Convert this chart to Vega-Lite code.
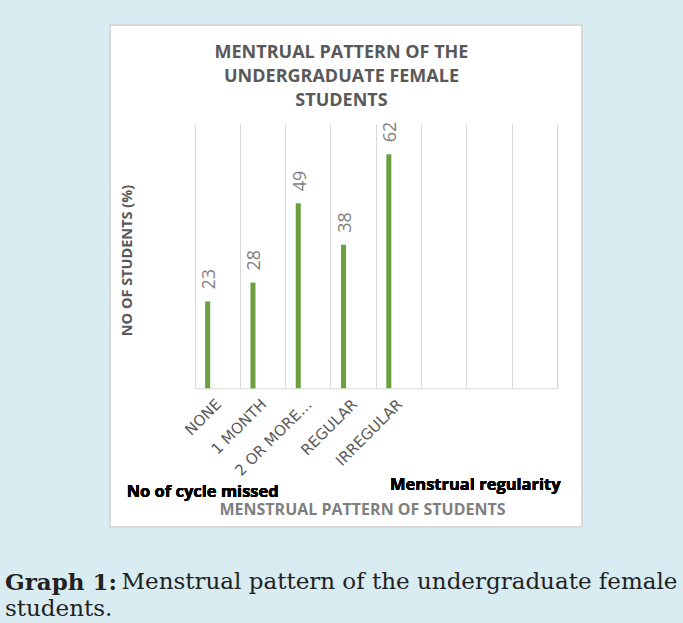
{
  "$schema": "https://vega.github.io/schema/vega-lite/v6.json",
  "width": 472,
  "height": 502,
  "autosize": {"type": "none"},
  "padding": {"left": 110, "top": 25, "right": 101, "bottom": 96},
  "background": "#d8ecf1",
  "config": {
    "view": {"fill": "white", "stroke": "#d9d9d9", "strokeWidth": 2}
  },
  "title": {
    "text": "Graph 1:",
    "subtitle": "students.",
    "orient": "bottom",
    "anchor": "start",
    "frame": "group",
    "dx": -105,
    "offset": -3,
    "baseline": "alphabetic",
    "font": "DejaVu Serif",
    "fontSize": 23,
    "fontWeight": "bold",
    "color": "#222222",
    "subtitleFont": "DejaVu Serif",
    "subtitleFontSize": 23,
    "subtitleFontWeight": "normal",
    "subtitleColor": "#222222",
    "subtitlePadding": 3
  },
  "data": {
    "values": [
      {"cat": "NONE", "v": 23},
      {"cat": "1 MONTH", "v": 28},
      {"cat": "2 OR MORE…", "v": 49},
      {"cat": "REGULAR", "v": 38},
      {"cat": "IRREGULAR", "v": 62}
    ]
  },
  "resolve": {"axis": {"x": "independent", "y": "independent"}},
  "layer": [
    {
      "mark": {"type": "rule", "color": "#6b9f3f", "strokeWidth": 5, "strokeCap": "butt"},
      "encoding": {
        "x": {
          "field": "cat",
          "type": "nominal",
          "bandPosition": 0.28,
          "scale": {
            "domain": ["NONE", "1 MONTH", "2 OR MORE…", "REGULAR", "IRREGULAR", " ", "  ", "   "],
            "range": [85, 447.3],
            "paddingInner": 0,
            "paddingOuter": 0
          },
          "axis": {
            "orient": "bottom",
            "offset": -138.7,
            "grid": false,
            "domain": true,
            "domainColor": "#d9d9d9",
            "domainWidth": 1,
            "ticks": false,
            "labelAngle": -45,
            "labelAlign": "right",
            "labelBaseline": "middle",
            "labelOffset": 1,
            "labelPadding": 13,
            "labelFont": "DejaVu Sans",
            "labelFontSize": 15,
            "labelColor": "#595959",
            "labelOverlap": false,
            "title": "MENSTRUAL PATTERN OF STUDENTS",
            "titleFont": "Open Sans",
            "titleFontWeight": "bold",
            "titleFontSize": 16,
            "titleColor": "#7f7f7f",
            "titleX": 252,
            "titleY": 126,
            "titleAlign": "center",
            "titleBaseline": "alphabetic"
          }
        },
        "y": {
          "field": "v",
          "type": "quantitative",
          "scale": {"domain": [0, 70], "range": [363.3, 99], "nice": false},
          "axis": {
            "orient": "left",
            "offset": -85,
            "labels": false,
            "ticks": false,
            "domain": true,
            "domainColor": "#d9d9d9",
            "domainWidth": 1,
            "grid": false,
            "title": "NO OF STUDENTS (%)",
            "titleFont": "Open Sans",
            "titleFontWeight": "bold",
            "titleFontSize": 14.5,
            "titleColor": "#595959",
            "titleAngle": -90,
            "titleX": -61,
            "titleY": 235,
            "titleAlign": "center",
            "titleBaseline": "bottom"
          }
        },
        "y2": {"datum": 0}
      }
    },
    {
      "mark": {"type": "text", "angle": 270, "align": "left", "baseline": "middle", "dx": 12, "font": "Open Sans", "fontSize": 18, "color": "#7f7f7f"},
      "encoding": {
        "x": {
          "field": "cat",
          "type": "nominal",
          "bandPosition": 0.33,
          "axis": {
            "orient": "top",
            "bandPosition": 1,
            "grid": true,
            "gridColor": "#d9d9d9",
            "gridWidth": 1,
            "domain": false,
            "ticks": false,
            "labels": false,
            "title": ["MENTRUAL PATTERN OF THE", "UNDERGRADUATE FEMALE", "STUDENTS"],
            "titleFont": "Open Sans",
            "titleFontWeight": "bold",
            "titleFontSize": 18,
            "titleColor": "#595959",
            "titleLineHeight": 24,
            "titleX": 231,
            "titleY": 18,
            "titleAlign": "center",
            "titleBaseline": "top"
          }
        },
        "y": {
          "field": "v",
          "type": "quantitative",
          "axis": {
            "orient": "right",
            "offset": -24.7,
            "labels": false,
            "ticks": false,
            "domain": true,
            "domainColor": "#d9d9d9",
            "domainWidth": 1,
            "grid": false,
            "title": "Menstrual pattern of the undergraduate female",
            "titleAngle": 0,
            "titleFont": "DejaVu Serif",
            "titleFontSize": 23,
            "titleFontWeight": "normal",
            "titleColor": "#222222",
            "titleX": -436.3,
            "titleY": 563,
            "titleAlign": "left",
            "titleBaseline": "alphabetic"
          }
        },
        "text": {"field": "v", "type": "quantitative"}
      }
    },
    {
      "mark": {"type": "text", "align": "center", "baseline": "alphabetic", "font": "Open Sans", "fontSize": 16.5, "fontWeight": "bold", "color": "#000000"},
      "encoding": {
        "x": {"datum": "NONE", "type": "nominal", "bandPosition": 0.17, "axis": null},
        "y": {"datum": -28.8, "type": "quantitative", "axis": null},
        "text": {"value": "No of cycle missed"}
      }
    },
    {
      "mark": {"type": "text", "align": "center", "baseline": "alphabetic", "font": "Open Sans", "fontSize": 16.5, "fontWeight": "bold", "color": "#000000"},
      "encoding": {
        "x": {"datum": "  ", "type": "nominal", "bandPosition": 0.19, "axis": null},
        "y": {"datum": -26.9, "type": "quantitative", "axis": null},
        "text": {"value": "Menstrual regularity"}
      }
    }
  ]
}
